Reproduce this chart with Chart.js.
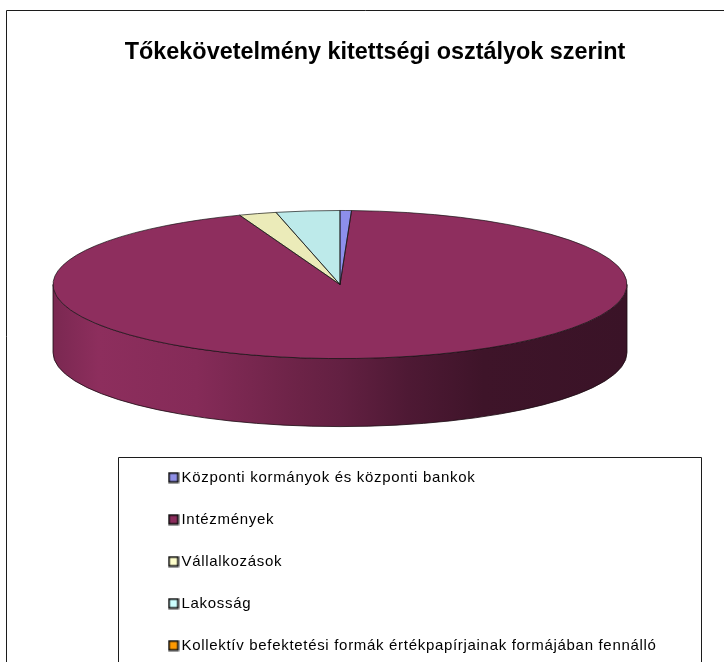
<!DOCTYPE html>
<html lang="hu">
<head>
<meta charset="utf-8">
<title>Tőkekövetelmény kitettségi osztályok szerint</title>
<style>
  html, body { margin: 0; padding: 0; background: #fff; overflow: hidden; }
  canvas { display: block; }
</style>
<script src="https://cdn.jsdelivr.net/npm/chart.js@4/dist/chart.umd.min.js"></script>
</head>
<body>
<canvas id="chart" width="724" height="662"></canvas>
<script>
// Exposure classes and their share of the capital requirement (%)
const categories = [
  'Központi kormányok és központi bankok',
  'Intézmények',
  'Vállalkozások',
  'Lakosság',
  'Kollektív befektetési formák értékpapírjainak formájában fennálló'
];
const shares = [0.64, 93.67, 2.11, 3.58, 0];
const chartTitle = 'Tőkekövetelmény kitettségi osztályok szerint';

const faceColors = ['#8d8fec', '#8e2e5e', '#ebebb9', '#bdeaea', '#f08c00'];
const legendColors = ['#8f8fe6', '#8b2c5c', '#ffffcc', '#ccffff', '#ff9900'];

// Pie tilt and wall height
const tiltRatio = 0.258;
const wallDepth = 68;
// Side wall brightness from left to right: [offset, factor]
const wallShade = [[0, 0.86], [0.08, 0.99], [0.25, 0.94], [0.43, 0.76], [0.5, 0.7], [0.62, 0.55], [0.75, 0.44], [1, 0.41]];

function shade(hex, f) {
  const n = parseInt(hex.slice(1), 16);
  return `rgb(${Math.round((n >> 16) * f)},${Math.round(((n >> 8) & 255) * f)},${Math.round((n & 255) * f)})`;
}

// Small square swatch used as the legend key
function swatch(color) {
  const c = document.createElement('canvas');
  c.width = c.height = 12;
  const g = c.getContext('2d');
  g.fillStyle = color;
  g.fillRect(1.5, 1.5, 9, 9);
  g.strokeStyle = '#111';
  g.lineWidth = 1.8;
  g.strokeRect(1.5, 1.5, 9, 9);
  return c;
}

const framePlugin = {
  id: 'frame',
  beforeDraw(chart) {
    const { ctx, width, height } = chart;
    ctx.save();
    ctx.strokeStyle = '#1c1c1c';
    ctx.lineWidth = 1;
    ctx.beginPath();
    ctx.moveTo(6.5, height);
    ctx.lineTo(6.5, 10.5);
    ctx.lineTo(width, 10.5);
    ctx.moveTo(118.5, height);
    ctx.lineTo(118.5, 457.5);
    ctx.lineTo(701.5, 457.5);
    ctx.lineTo(701.5, height);
    ctx.stroke();
    ctx.restore();
  }
};

// Places the title and legend where the layout wants them
const placement = {
  id: 'placement',
  afterLayout(chart) {
    const t = chart.titleBlock;
    t.left = 0;
    t.right = 750;

    const l = chart.legend;
    l.left = 146;
    l.right = 700;
    l.top = 443;
    l.bottom = 800;
    l.adjustHitBoxes();
    // Wider tracking for the legend text only
    if (!l._tracked) {
      const drawLegend = l.draw.bind(l);
      l.draw = (...args) => {
        chart.ctx.letterSpacing = '0.69px';
        drawLegend(...args);
        chart.ctx.letterSpacing = '0px';
      };
      l._tracked = true;
    }
  }
};

// Gives the pie its tilted, extruded look
const tiltPlugin = {
  id: 'tilt',
  beforeDatasetsDraw(chart) {
    const { ctx } = chart;
    const arcs = chart.getDatasetMeta(0).data;
    const { x, y, outerRadius: r } = arcs[0];
    const ry = r * tiltRatio;

    // Visible front wall of each slice
    arcs.forEach((arc, i) => {
      const a0 = Math.max(arc.startAngle, 0);
      const a1 = Math.min(arc.endAngle, Math.PI);
      if (a1 <= a0) return;
      const grad = ctx.createLinearGradient(x - r, 0, x + r, 0);
      wallShade.forEach(([o, f]) => grad.addColorStop(o, shade(faceColors[i], f)));
      ctx.beginPath();
      ctx.ellipse(x, y, r, ry, 0, a0, a1);
      ctx.ellipse(x, y + wallDepth, r, ry, 0, a1, a0, true);
      ctx.closePath();
      ctx.fillStyle = grad;
      ctx.fill();
      ctx.strokeStyle = '#1a0a12';
      ctx.lineWidth = 0.8;
      ctx.stroke();
    });

    ctx.save();
    ctx.translate(x, y);
    ctx.scale(1, tiltRatio);
    ctx.translate(-x, -y);
  },
  afterDatasetsDraw(chart) {
    const { ctx } = chart;
    ctx.restore();
    const arcs = chart.getDatasetMeta(0).data;
    const { x, y, outerRadius: r } = arcs[0];
    const ry = r * tiltRatio;
    ctx.save();
    ctx.strokeStyle = 'rgba(20,20,20,0.85)';
    ctx.lineWidth = 0.8;
    arcs.forEach(arc => {
      if (arc.endAngle - arc.startAngle <= 0) return;
      ctx.beginPath();
      ctx.moveTo(x, y);
      ctx.ellipse(x, y, r, ry, 0, arc.startAngle, arc.endAngle);
      ctx.closePath();
      ctx.stroke();
    });
    ctx.restore();
  }
};

new Chart(document.getElementById('chart'), {
  type: 'pie',
  data: {
    labels: categories,
    datasets: [{
      data: shares,
      backgroundColor: faceColors,
      borderWidth: 0,
      radius: 287
    }]
  },
  options: {
    responsive: false,
    animation: false,
    layout: { padding: { left: 53, right: 97, top: 0, bottom: 161 } },
    plugins: {
      tooltip: { enabled: false },
      title: {
        display: true,
        text: chartTitle,
        color: '#000',
        font: { family: '"Liberation Sans", Arial, sans-serif', size: 23.4, weight: 'bold' },
        padding: { top: 39, bottom: 1 }
      },
      legend: {
        display: true,
        position: 'chartArea',
        align: 'start',
        labels: {
          color: '#222',
          font: { family: '"Liberation Sans", Arial, sans-serif', size: 15 },
          padding: 27,
          usePointStyle: true,
          pointStyleWidth: 1,
          boxHeight: 10,
          generateLabels(chart) {
            return categories.map((text, i) => ({
              text,
              pointStyle: swatch(legendColors[i]),
              fillStyle: legendColors[i],
              strokeStyle: '#111',
              lineWidth: 1,
              hidden: false,
              index: i
            }));
          }
        }
      }
    }
  },
  plugins: [framePlugin, placement, tiltPlugin]
});
</script>
</body>
</html>
